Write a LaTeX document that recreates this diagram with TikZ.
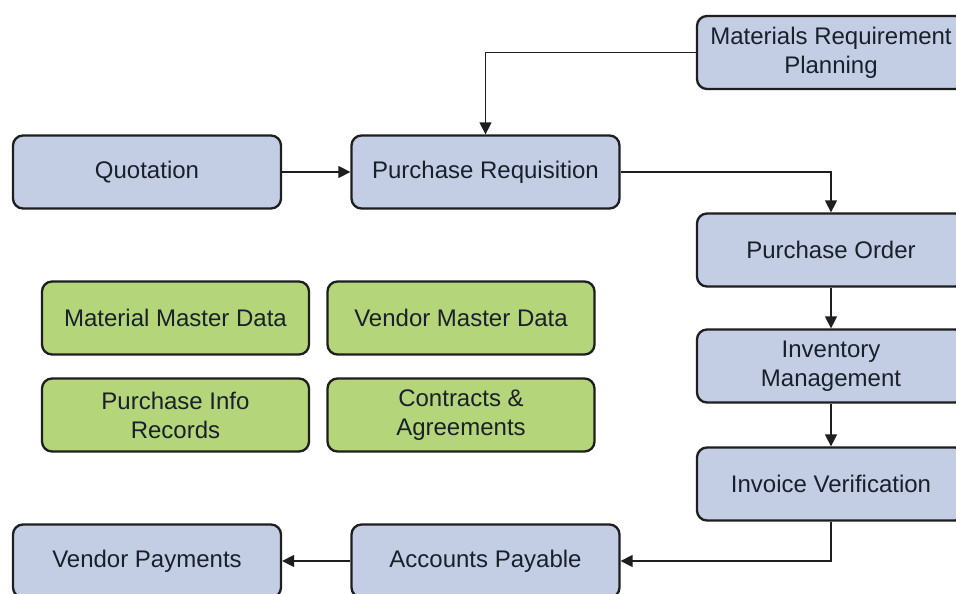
\documentclass[tikz,border=0pt]{standalone}
\usepackage{fontspec}
\setmainfont{Liberation Sans}
\usetikzlibrary{arrows.meta}
\definecolor{boxblue}{HTML}{C3CEE5}
\definecolor{boxgreen}{HTML}{B4D57A}
\definecolor{edgeink}{HTML}{1E1E1E}
\definecolor{textink}{HTML}{1A202B}
\tikzset{
  procbox/.style={draw=edgeink, line width=2.3pt, rounded corners=10pt,
    fill=boxblue, minimum width=268pt, minimum height=73pt,
    align=center, text=textink, inner sep=0pt,
    font=\fontsize{24}{29}\selectfont},
  databox/.style={procbox, fill=boxgreen, minimum width=267pt},
  flow/.style={draw=edgeink, line width=1.5pt,
    -{Triangle[length=12pt,width=12pt]}}
}
\begin{document}
\begin{tikzpicture}[x=1pt,y=-1pt]
\clip (0,0) rectangle (956,594);
\fill[white] (0,0) rectangle (956,594);

% process chain
\node[procbox] (mrp) at (831,52.5)  {Materials Requirement\\Planning};
\node[procbox] (quo) at (147,172)   {Quotation};
\node[procbox] (pr)  at (485.5,172) {Purchase Requisition};
\node[procbox] (po)  at (831,250)   {Purchase Order};
\node[procbox] (im)  at (831,366)   {Inventory\\Management};
\node[procbox] (iv)  at (831,484)   {Invoice Verification};
\node[procbox] (vp)  at (147,561)   {Vendor Payments};
\node[procbox] (ap)  at (485.5,561) {Accounts Payable};

% master data
\node[databox] (mmd) at (175.5,318) {Material Master Data};
\node[databox] (vmd) at (461,318)   {Vendor Master Data};
\node[databox] (pir) at (175.5,415) {Purchase Info\\Records};
\node[databox] (ca)  at (461,415)   {Contracts \&\\Agreements};

% connectors
\draw[flow] (mrp.west) -| (pr.north);
\draw[flow] (quo.east) -- (pr.west);
\draw[flow] (pr.east) -| (po.north);
\draw[flow] (po.south) -- (im.north);
\draw[flow] (im.south) -- (iv.north);
\draw[flow] (iv.south) |- (ap.east);
\draw[flow] (ap.west) -- (vp.east);
\end{tikzpicture}
\end{document}
